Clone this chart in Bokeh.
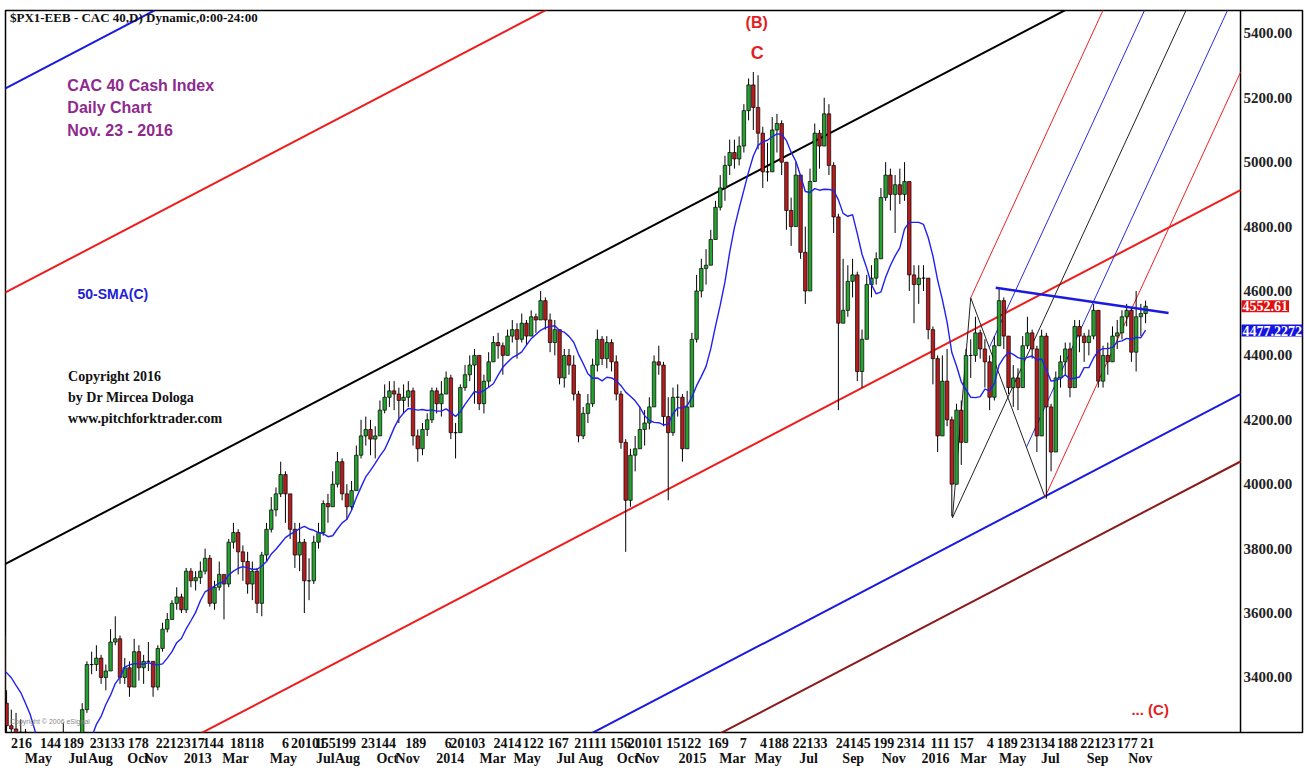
import numpy as np
import pandas as pd
from bokeh.plotting import figure
from bokeh.models import (Range1d, LinearAxis, FixedTicker, Label, AllLabels, ColumnDataSource)
from bokeh.core.properties import value
from bokeh.embed import file_html
from bokeh.resources import INLINE

BASE = pd.Timestamp("2012-01-01")


def day(s):
    return (pd.Timestamp(s) - BASE).days


# ---------------- data (weekly candles, CAC 40 cash index) ----------------
week_start = "2012-02-01"
closes = [
    3330, 3400, 3430, 3450, 3450, 3380, 3530, 3500, 3440, 3320,
    3250, 3240, 3190, 3230, 3120, 3030, 3030, 3020, 3000, 3070,
    3150, 3050, 3220, 3160, 3200, 3120, 3300, 3440, 3440, 3460,
    3400, 3420, 3510, 3520, 3400, 3430, 3370, 3480, 3430, 3450,
    3450, 3370, 3490, 3550, 3580, 3630, 3650, 3610, 3730, 3700,
    3710, 3730, 3770, 3630, 3680, 3720, 3690, 3820, 3850, 3790,
    3760, 3690, 3730, 3630, 3780, 3860, 3920, 3970, 4030, 3970,
    3860, 3780, 3820, 3700, 3700, 3820, 3850, 3940, 3930, 4000,
    4070, 3970, 3930, 3980, 4090, 4150, 4170, 4140, 4150, 4230,
    4270, 4290, 4280, 4260, 4270, 4290, 4150, 4110, 4170, 4200,
    4290, 4250, 4280, 4330, 4160, 4160, 4300, 4340, 4370, 4400,
    4250, 4320, 4380, 4440, 4430, 4400, 4460, 4480, 4450, 4500,
    4460, 4520, 4510, 4570, 4510, 4440, 4480, 4330, 4400, 4370,
    4280, 4150, 4220, 4250, 4370, 4450, 4390, 4440, 4380, 4280,
    4130, 3950, 4090, 4110, 4170, 4190, 4240, 4380, 4370, 4210,
    4160, 4270, 4270, 4110, 4240, 4450, 4600, 4670, 4680, 4760,
    4860, 4920, 4990, 5030, 5010, 5050, 5160, 5240, 5170, 5090,
    4970, 4970, 5100, 5120, 5000, 4850, 4800, 4960, 4720, 4600,
    4940, 5090, 5050, 5150, 4990, 4830, 4500, 4540, 4630, 4650,
    4350, 4450, 4620, 4640, 4700, 4890, 4960, 4900, 4930, 4900,
    4940, 4650, 4620, 4640, 4640, 4480, 4390, 4150, 4320, 4200,
    4000, 4230, 4130, 4400, 4400, 4470, 4420, 4380, 4270, 4430,
    4570, 4460, 4300, 4330, 4300, 4430, 4470, 4420, 4150, 4460,
    4240, 4100, 4330, 4380, 4420, 4300, 4490, 4460, 4440, 4460,
    4540, 4320, 4400, 4380, 4460, 4470, 4520, 4540, 4410, 4520,
    4530, 4552.61,
]
highs = [
    3340, 3420, 3450, 3470, 3490, 3470, 3560, 3600, 3520, 3460,
    3360, 3300, 3290, 3270, 3240, 3130, 3080, 3070, 3060, 3110,
    3190, 3150, 3260, 3230, 3230, 3220, 3320, 3450, 3480, 3500,
    3470, 3440, 3550, 3590, 3530, 3460, 3450, 3520, 3500, 3470,
    3510, 3450, 3500, 3570, 3600, 3640, 3680, 3660, 3740, 3740,
    3730, 3760, 3800, 3780, 3700, 3760, 3720, 3830, 3880, 3860,
    3810, 3790, 3760, 3740, 3790, 3880, 3960, 3990, 4070, 4040,
    3970, 3880, 3880, 3830, 3770, 3840, 3880, 3950, 3970, 4040,
    4100, 4080, 4000, 4010, 4120, 4200, 4210, 4200, 4180, 4260,
    4310, 4320, 4320, 4300, 4310, 4320, 4300, 4170, 4190, 4220,
    4300, 4300, 4320, 4350, 4340, 4190, 4310, 4370, 4400, 4420,
    4400, 4340, 4410, 4460, 4470, 4440, 4480, 4510, 4500, 4530,
    4510, 4540, 4530, 4600, 4580, 4530, 4510, 4480, 4420, 4420,
    4400, 4290, 4240, 4280, 4390, 4480, 4460, 4460, 4450, 4400,
    4290, 4140, 4110, 4150, 4240, 4230, 4270, 4400, 4430, 4380,
    4270, 4300, 4310, 4280, 4290, 4470, 4650, 4700, 4730, 4790,
    4880, 4960, 5020, 5070, 5070, 5080, 5180, 5260, 5280, 5270,
    5110, 5060, 5140, 5150, 5130, 5000, 4890, 5000, 4960, 4800,
    4980, 5120, 5100, 5200, 5180, 5000, 4840, 4700, 4680, 4700,
    4660, 4480, 4650, 4680, 4720, 4920, 5000, 4980, 4960, 4980,
    5000, 4940, 4680, 4680, 4680, 4640, 4490, 4400, 4400, 4420,
    4210, 4250, 4260, 4420, 4450, 4520, 4480, 4450, 4400, 4460,
    4610, 4580, 4460, 4370, 4360, 4460, 4520, 4480, 4430, 4480,
    4470, 4250, 4350, 4400, 4440, 4440, 4510, 4510, 4470, 4480,
    4560, 4540, 4430, 4440, 4490, 4510, 4540, 4560, 4550, 4600,
    4560, 4570,
]
lows = [
    3250, 3320, 3380, 3410, 3420, 3350, 3380, 3480, 3410, 3300,
    3180, 3170, 3110, 3170, 3070, 3000, 2970, 2980, 2950, 3000,
    3060, 3020, 3050, 3130, 3140, 3050, 3110, 3290, 3410, 3420,
    3380, 3360, 3420, 3500, 3380, 3380, 3340, 3370, 3390, 3380,
    3420, 3340, 3360, 3480, 3540, 3580, 3610, 3600, 3600, 3680,
    3670, 3690, 3720, 3620, 3610, 3670, 3580, 3680, 3800, 3720,
    3700, 3660, 3640, 3600, 3590, 3760, 3850, 3900, 3960, 3880,
    3830, 3740, 3730, 3600, 3640, 3690, 3800, 3840, 3880, 3940,
    3990, 3950, 3890, 3920, 3990, 4080, 4120, 4090, 4080, 4150,
    4220, 4240, 4230, 4190, 4220, 4240, 4120, 4070, 4090, 4150,
    4190, 4220, 4210, 4280, 4140, 4080, 4160, 4290, 4320, 4250,
    4230, 4220, 4300, 4380, 4390, 4340, 4400, 4440, 4390, 4440,
    4430, 4460, 4470, 4520, 4480, 4410, 4400, 4310, 4300, 4340,
    4260, 4130, 4140, 4190, 4240, 4350, 4370, 4360, 4350, 4260,
    4110, 3790, 3930, 4040, 4120, 4120, 4170, 4250, 4340, 4180,
    3950, 4150, 4210, 4070, 4140, 4250, 4440, 4580, 4620, 4680,
    4760, 4850, 4880, 4960, 4980, 4990, 5030, 5130, 5100, 5040,
    4920, 4940, 4990, 5030, 4960, 4790, 4740, 4800, 4700, 4560,
    4750, 4990, 4980, 5050, 4960, 4780, 4230, 4500, 4520, 4580,
    4320, 4300, 4460, 4580, 4620, 4700, 4880, 4850, 4780, 4870,
    4880, 4600, 4500, 4560, 4600, 4450, 4310, 4100, 4200, 4180,
    3900, 4000, 4060, 4150, 4330, 4380, 4390, 4300, 4230, 4260,
    4440, 4420, 4280, 4240, 4230, 4300, 4420, 4390, 4100, 4170,
    3955, 4040, 4120, 4300, 4340, 4270, 4330, 4410, 4380, 4400,
    4450, 4300, 4300, 4340, 4390, 4420, 4450, 4490, 4380, 4350,
    4460, 4500,
]
sma_period_weeks = 10            # ~ 50 trading days
sma_tag_value = 4477.2272        # value printed in the blue price tag

price_ticks = [3400, 3600, 3800, 4000, 4200, 4400, 4600, 4800, 5000, 5200, 5400]

day_tick_labels = ["216", "144", "189", "23133", "178", "22123", "17", "144", "1811", "8",
                   "6", "20101", "155", "199", "23144", "189", "6", "20103", "2414", "122",
                   "167", "21111", "156", "20101", "15122", "169", "7", "4", "188", "22133",
                   "24145", "199", "2314", "111", "157", "4", "189", "23134", "188", "22123",
                   "177", "21"]
day_tick_dates = ["2012-05-03", "2012-06-15", "2012-07-19", "2012-09-07", "2012-10-23",
                  "2012-12-14", "2013-01-19", "2013-02-11", "2013-03-28", "2013-04-22",
                  "2013-05-29", "2013-07-02", "2013-07-27", "2013-08-26", "2013-10-14",
                  "2013-12-08", "2014-01-25", "2014-02-23", "2014-04-23", "2014-05-31",
                  "2014-07-07", "2014-08-24", "2014-10-07", "2014-11-13", "2015-01-09",
                  "2015-03-01", "2015-04-07", "2015-05-07", "2015-05-29", "2015-07-15",
                  "2015-09-17", "2015-11-01", "2015-12-11", "2016-01-24", "2016-02-27",
                  "2016-04-07", "2016-05-02", "2016-06-16", "2016-07-30", "2016-09-13",
                  "2016-10-27", "2016-11-26"]
month_tick_labels = ["May", "Jul", "Aug", "Oct", "Nov", "2013", "Mar", "May", "Jul", "Aug",
                     "Oct", "Nov", "2014", "Mar", "May", "Jul", "Aug", "Oct", "Nov", "2015",
                     "Mar", "May", "Jul", "Sep", "Nov", "2016", "Mar", "May", "Jul", "Sep", "Nov"]
month_tick_dates = ["2012-05-28", "2012-07-25", "2012-08-28", "2012-10-23", "2012-11-18",
                    "2013-01-19", "2013-03-16", "2013-05-26", "2013-07-27", "2013-08-29",
                    "2013-10-27", "2013-11-26", "2014-01-28", "2014-04-01", "2014-05-22",
                    "2014-07-18", "2014-08-24", "2014-10-18", "2014-11-16", "2015-01-22",
                    "2015-03-22", "2015-05-14", "2015-07-13", "2015-09-17", "2015-11-16",
                    "2016-01-17", "2016-03-13", "2016-05-10", "2016-07-05", "2016-09-13",
                    "2016-11-15"]

# large Andrews pitchfork: median line anchors + parallel offsets (index points)
fork_anchor_dates = ["2012-04-09", "2016-07-26"]
fork_anchor_prices = [3752, 5471]
fork_offsets = [1477, 843, 0, -843, -1477, -1686]
fork_colors = ["#1a1ae0", "#ee1c1c", "#000000", "#ee1c1c", "#1a1ae0", "#8b1a1a"]

# small 2016 pitchfork pivots A, B, C
pivot_dates = ["2016-02-11", "2016-03-09", "2016-06-27"]
pivot_prices = [3896, 4579, 3960]

# descending blue trend line
trend_dates = ["2016-04-15", "2016-12-27"]
trend_prices = [4610, 4532]

# ---------------- derived ----------------
dates = pd.date_range(week_start, periods=len(closes), freq="7D")
xs = np.array([(d - BASE).days for d in dates], dtype=float)
close = np.array(closes, dtype=float)
open_ = np.concatenate([[close[0]], close[:-1]])
high = np.maximum(np.array(highs, dtype=float), np.maximum(open_, close))
low = np.minimum(np.array(lows, dtype=float), np.minimum(open_, close))
sma = pd.Series(close).rolling(sma_period_weeks, min_periods=1).mean().to_numpy()

inc = close >= open_
up = ColumnDataSource(dict(x=xs[inc], top=close[inc], bottom=open_[inc]))
dn = ColumnDataSource(dict(x=xs[~inc], top=open_[~inc], bottom=close[~inc]))
wk = ColumnDataSource(dict(x=xs, h=high, l=low))

X0 = 99.4          # left edge of chart (date axis, days since 2012-01-01)
X_AXIS = 1928.6    # position of the price scale line
X1 = 2020.4        # right edge of the panel (price tags area)
Y0, Y1 = 3229, 5471

p = figure(width=1305, height=768, x_range=Range1d(X0, X1), y_range=Range1d(Y0, Y1),
           output_backend="svg", toolbar_location=None,
           x_axis_location=None, y_axis_location=None,
           min_border_left=5, min_border_top=10, min_border_right=3, min_border_bottom=0)
p.grid.visible = False
p.outline_line_color = "black"
p.outline_line_width = 1.5
p.background_fill_color = "white"
p.border_fill_color = "white"


def bottom_axis(positions, labels, standoff):
    ax = LinearAxis(ticker=FixedTicker(ticks=positions),
                    major_label_overrides={t: s for t, s in zip(positions, labels)},
                    major_label_policy=AllLabels())
    ax.axis_line_color = None
    ax.major_tick_line_color = None
    ax.minor_tick_line_color = None
    ax.major_tick_out = 0
    ax.major_tick_in = 0
    ax.major_label_standoff = standoff
    ax.major_label_text_font = "Liberation Sans Narrow"
    ax.major_label_text_font_size = "14px"
    ax.major_label_text_font_style = "bold"
    ax.major_label_text_color = "#111111"
    ax.major_label_text_line_height = 1.0
    return ax


p.add_layout(bottom_axis([day(d) for d in day_tick_dates], day_tick_labels, 5), "below")
p.add_layout(bottom_axis([day(d) for d in month_tick_dates], month_tick_labels, 0), "below")

# price scale: vertical line + labels
p.segment(x0=[X_AXIS], y0=[Y0 - 100], x1=[X_AXIS], y1=[Y1 + 100],
          line_color="black", line_width=1.5)
p.text(x=[X_AXIS] * len(price_ticks), y=price_ticks,
       text=[f"{v:.2f}" for v in price_ticks], x_offset=3,
       text_font=value("Liberation Sans Narrow"), text_font_size="15px",
       text_font_style="bold", text_color="#222222", text_baseline="middle")

# ---------- big pitchfork ----------
fa = [day(d) for d in fork_anchor_dates]
fslope = (fork_anchor_prices[1] - fork_anchor_prices[0]) / (fa[1] - fa[0])
xa, xb = 0.0, X_AXIS
for off, col in zip(fork_offsets, fork_colors):
    ya = fork_anchor_prices[0] + fslope * (xa - fa[0]) + off
    yb = fork_anchor_prices[0] + fslope * (xb - fa[0]) + off
    p.segment(x0=[xa], y0=[ya], x1=[xb], y1=[yb], line_color=col, line_width=2)

# ---------- small pitchfork ----------
pa = [day(d) for d in pivot_dates]
A = (pa[0], pivot_prices[0])
B = (pa[1], pivot_prices[1])
C = (pa[2], pivot_prices[2])
M = ((B[0] + C[0]) / 2, (B[1] + C[1]) / 2)
sslope = (M[1] - A[1]) / (M[0] - A[0])
Q1 = ((B[0] + M[0]) / 2, (B[1] + M[1]) / 2)
Q3 = ((M[0] + C[0]) / 2, (M[1] + C[1]) / 2)


def ray(pt, col, w=1.0):
    xe = min(pt[0] + 400, X_AXIS)
    p.segment(x0=[pt[0]], y0=[pt[1]], x1=[xe], y1=[pt[1] + sslope * (xe - pt[0])],
              line_color=col, line_width=w)


p.segment(x0=[A[0], B[0]], y0=[A[1], B[1]], x1=[B[0], C[0]], y1=[B[1], C[1]],
          line_color="#222222", line_width=1)
ray(A, "#222222")
ray(B, "#ee2222")
ray(C, "#ee2222")
ray(Q1, "#2a2ae0")
ray(Q3, "#2a2ae0")

# ---------- candles ----------
p.segment(x0="x", y0="h", x1="x", y1="l", source=wk, line_color="black", line_width=1)
p.vbar(x="x", top="top", bottom="bottom", width=5.2, source=up,
       fill_color="#25a32f", line_color="black", line_width=0.7)
p.vbar(x="x", top="top", bottom="bottom", width=5.2, source=dn,
       fill_color="#b81c1c", line_color="black", line_width=0.7)

# 50-SMA
p.line(xs, sma, line_color="#2020f0", line_width=1.4)

# trend line
p.line([day(d) for d in trend_dates], trend_prices, line_color="#1a1ae0", line_width=2.5)


# ---------- texts ----------
def lab(xd, yv, text, size, color, font="Liberation Sans", style="bold", align="left"):
    p.add_layout(Label(x=xd, y=yv, text=text, text_font=font, text_font_size=size,
                       text_color=color, text_font_style=style, text_align=align,
                       text_baseline="middle"))


lab(day("2012-04-16"), 5450, "$PX1-EEB - CAC 40,D) Dynamic,0:00-24:00", "13px", "#111111",
    font="Liberation Sans Narrow")
purple = "#8e2a8e"
lab(day("2012-07-10"), 5238, "CAC 40 Cash Index", "16px", purple)
lab(day("2012-07-10"), 5170, "Daily Chart", "16px", purple)
lab(day("2012-07-10"), 5098, "Nov. 23 - 2016", "16px", purple)
lab(day("2012-07-25"), 4591, "50-SMA(C)", "14px", "#2020d8")
lab(day("2012-07-11"), 4333, "Copyright 2016", "14px", "#111111", font="Liberation Serif")
lab(day("2012-07-11"), 4268, "by Dr Mircea Dologa", "14px", "#111111", font="Liberation Serif")
lab(day("2012-07-11"), 4203, "www.pitchforktrader.com", "14px", "#111111", font="Liberation Serif")
lab(day("2012-04-16"), 3263, "Copyright \u00a9 2006 eSignal", "7px", "#888888", style="normal")
lab(day("2015-04-27"), 5434, "(B)", "16px", "#e41e1e", align="center")
lab(day("2015-04-28"), 5338, "C", "18px", "#e41e1e", align="center")
lab(day("2016-11-02"), 3301, "... (C)", "15px", "#e41e1e")

# price tags at the price scale
p.add_layout(Label(x=X_AXIS, y=close[-1], x_offset=1, text=f"{close[-1]:.2f}",
                   text_font="Liberation Sans Narrow", text_font_size="14px",
                   text_font_style="bold", text_color="white", text_baseline="middle",
                   background_fill_color="#e01010", padding=1))
p.add_layout(Label(x=X_AXIS, y=sma_tag_value, x_offset=1, text=f"{sma_tag_value:.4f}",
                   text_font="Liberation Sans Narrow", text_font_size="14px",
                   text_font_style="bold", text_color="white", text_baseline="middle",
                   background_fill_color="#1515e0", padding=1))

open("out.html", "w").write(file_html(p, INLINE))
